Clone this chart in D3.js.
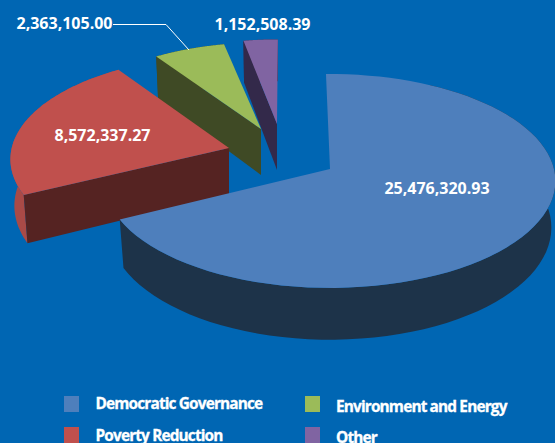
<!DOCTYPE html>
<html>
<head>
<meta charset="utf-8">
<script src="https://cdnjs.cloudflare.com/ajax/libs/d3/7.8.5/d3.min.js"></script>
<style>
  html, body { margin: 0; padding: 0; background: #0066b3; }
  svg { display: block; }
  text { font-family: "Open Sans", sans-serif; font-weight: 700; fill: #fff; }
</style>
</head>
<body>
<svg></svg>
<script>
var categories = ["Democratic Governance", "Poverty Reduction", "Environment and Energy", "Other"];
var values = [25476320.93, 8572337.27, 2363105.00, 1152508.39];
var valueLabels = ["25,476,320.93", "8,572,337.27", "2,363,105.00", "1,152,508.39"];
var topColors = ["#4e7fbc", "#c0504d", "#9bbb59", "#8064a2"];
var rimColors = ["#1d3349", "#a94a47", "#3f4a25", "#33294a"];
var sideColors = ["#1d3349", "#552322", "#3f4a25", "#33294a"];

var svgWidth = 555, svgHeight = 443;
var svg = d3.select("svg").attr("width", svgWidth).attr("height", svgHeight);

// flattened disc with a little perspective: things nearer the viewer get bigger
var radiusX = 224, radiusY = 105.6, perspective = 0.112, depth = 46, bottomShrink = 0.982;

// where each exploded slice has its point, how far it reaches, small turn in radians
var apexX = [330, 229, 261, 277];
var apexY = [169, 148, 129, 124];
var reach = [1, 0.97, 0.9, 0.88];
var spin = [-0.02, 0, -0.01, 0.005];
// blue's far rim is hidden behind its own top, so start it further round
var rimStart = [10, 0, 0, 0];

var pie = d3.pie().sort(null);
var slices = pie(values);

var line = d3.line().x(function(d) { return d[0]; }).y(function(d) { return d[1]; });

function project(i, angle, r, low) {
  var u = Math.sin(angle + spin[i]) * r * reach[i];
  var v = -Math.cos(angle + spin[i]) * r * reach[i];
  var s = 1 / (1 - perspective * v);
  var x = u * radiusX * s * (low ? bottomShrink : 1);
  var y = v * radiusY * s + (low ? depth * s : 0);
  return [apexX[i] + x, apexY[i] + y];
}

function arcPoints(i, d, low) {
  var step = (d.endAngle - d.startAngle) / 80;
  return d3.range(81).map(function(k) {
    return project(i, d.startAngle + k * step, 1, low);
  });
}

// back slices first so the big one ends up on top
[3, 2, 1, 0].forEach(function(i) {
  var d = slices[i];
  var g = svg.append("g");
  var top = arcPoints(i, d, false);
  var bottom = arcPoints(i, d, true);

  g.append("path")
    .attr("d", line(top.slice(rimStart[i]).concat(bottom.slice(rimStart[i]).reverse())) + "Z")
    .attr("fill", rimColors[i]);

  if (i > 0) {
    g.append("path")
      .attr("d", line([project(i, d.startAngle, 0, false), top[0], bottom[0], project(i, d.startAngle, 0, true)]) + "Z")
      .attr("fill", sideColors[i]);
  }

  g.append("path")
    .attr("d", line([project(i, d.startAngle, 0, false)].concat(top)) + "Z")
    .attr("fill", topColors[i]);
});

// labels
var labelX = [437, 102.5, 64.5, 262.5];
var labelY = [194, 141, 29, 30];
svg.selectAll("text.value")
  .data(valueLabels)
  .enter()
  .append("text")
  .attr("class", "value")
  .attr("x", function(d, i) { return labelX[i]; })
  .attr("y", function(d, i) { return labelY[i]; })
  .attr("text-anchor", "middle")
  .attr("font-size", 16)
  .text(function(d) { return d; });

// leader for the green slice
svg.append("path")
  .attr("d", line([[113, 24.5], [166, 24.5], [189, 50]]))
  .attr("fill", "none")
  .attr("stroke", "#fff")
  .attr("stroke-width", 1);

// legend
var legendX = [64, 64, 305, 305];
var swatchY = [396, 427, 396, 427];
var legendTextX = [95.5, 95.5, 336, 336];
var legendTextY = [409, 441, 412, 443];
var legend = svg.selectAll("g.legend")
  .data(categories)
  .enter()
  .append("g")
  .attr("class", "legend");

legend.append("rect")
  .attr("x", function(d, i) { return legendX[i]; })
  .attr("y", function(d, i) { return swatchY[i]; })
  .attr("width", 15)
  .attr("height", 16)
  .attr("fill", function(d, i) { return topColors[i]; });

legend.append("text")
  .attr("x", function(d, i) { return legendTextX[i]; })
  .attr("y", function(d, i) { return legendTextY[i]; })
  .attr("font-size", 15.4)
  .attr("letter-spacing", -0.85)
  .attr("stroke", "#fff")
  .attr("stroke-width", 0.3)
  .text(function(d) { return d; });
</script>
</body>
</html>
